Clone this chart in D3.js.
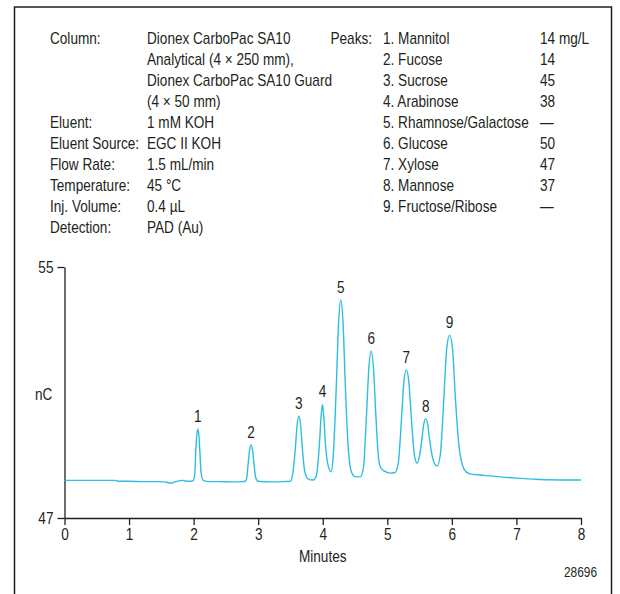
<!DOCTYPE html>
<html>
<head>
<meta charset="utf-8">
<script src="https://cdn.jsdelivr.net/npm/d3@7"></script>
<style>
  body { margin: 0; background: #fff; }
  svg text { font-family: "Liberation Sans", Arial, sans-serif; fill: #231f20; }
</style>
</head>
<body>
<div id="chart"></div>
<script>
// conditions (left block)
var condLabels = ["Column:", "", "", "", "Eluent:", "Eluent Source:", "Flow Rate:", "Temperature:", "Inj. Volume:", "Detection:"];
var condValues = ["Dionex CarboPac SA10", "Analytical (4 \u00d7 250 mm),", "Dionex CarboPac SA10 Guard", "(4 \u00d7 50 mm)",
                  "1 mM KOH", "EGC II KOH", "1.5 mL/min", "45 \u00b0C", "0.4 \u00b5L", "PAD (Au)"];

// peaks table
var peakNames = ["1. Mannitol", "2. Fucose", "3. Sucrose", "4. Arabinose", "5. Rhamnose/Galactose",
                 "6. Glucose", "7. Xylose", "8. Mannose", "9. Fructose/Ribose"];
var peakConc = ["14 mg/L", "14", "45", "38", "\u2014", "50", "47", "37", "\u2014"];

// peak labels on the trace
var peakIds = ["1", "2", "3", "4", "5", "6", "7", "8", "9"];
var peakTimes = [2.065, 2.89, 3.63, 3.995, 4.28, 4.75, 5.295, 5.595, 5.965];
var peakTops = [49.84, 49.33, 50.25, 50.62, 53.95, 52.32, 51.72, 50.16, 52.83];

// axis ticks
var xTicks = [0, 1, 2, 3, 4, 5, 6, 7, 8];
var yTicks = [47, 55];

// chromatogram trace [minutes, nC]
var trace = [
  [0, 48.20], [0.5, 48.20], [0.8, 48.20], [0.82, 48.17], [1.0, 48.17], [1.2, 48.16], [1.4, 48.16],
  [1.55, 48.15], [1.64, 48.11], [1.72, 48.16], [1.84, 48.20], [1.9, 48.17], [1.97, 48.17],
  [1.99, 48.18], [2.02, 48.45], [2.03, 48.98], [2.048, 49.62], [2.065, 49.84], [2.082, 49.62],
  [2.10, 48.98], [2.115, 48.45], [2.15, 48.20], [2.25, 48.16],
  [2.4, 48.16], [2.6, 48.15], [2.75, 48.16], [2.8, 48.17],
  [2.82, 48.25], [2.846, 48.75], [2.868, 49.18], [2.89, 49.33], [2.912, 49.18], [2.934, 48.75],
  [2.96, 48.30], [3.0, 48.17],
  [3.2, 48.15], [3.4, 48.16], [3.5, 48.17],
  [3.53, 48.35], [3.575, 49.2], [3.60, 49.9], [3.63, 50.25], [3.66, 49.9], [3.685, 49.2],
  [3.72, 48.5], [3.77, 48.25], [3.85, 48.21],
  [3.90, 48.35], [3.95, 49.4], [3.973, 50.2], [3.995, 50.62], [4.017, 50.2], [4.04, 49.4],
  [4.08, 48.7], [4.13, 48.47],
  [4.16, 48.9], [4.21, 51.2], [4.245, 53.2], [4.28, 53.95], [4.315, 53.2], [4.35, 51.2],
  [4.39, 49.4], [4.44, 48.5], [4.5, 48.32], [4.58, 48.31],
  [4.63, 48.6], [4.678, 50.3], [4.715, 51.8], [4.75, 52.32], [4.785, 51.8], [4.822, 50.3],
  [4.86, 49.0], [4.89, 48.63], [4.95, 48.5], [5.05, 48.43], [5.12, 48.45],
  [5.17, 48.75], [5.218, 50.1], [5.255, 51.3], [5.295, 51.72], [5.335, 51.3], [5.372, 50.2],
  [5.42, 49.0], [5.46, 48.75],
  [5.50, 49.0], [5.535, 49.5], [5.565, 50.0], [5.595, 50.16], [5.625, 50.0], [5.655, 49.5],
  [5.71, 48.85], [5.77, 48.66],
  [5.82, 49.0], [5.875, 50.8], [5.92, 52.4], [5.965, 52.83], [6.01, 52.4], [6.055, 50.8],
  [6.11, 49.3], [6.17, 48.65], [6.22, 48.47], [6.3, 48.40], [6.5, 48.36], [6.75, 48.31],
  [7.0, 48.27], [7.26, 48.24], [7.5, 48.22], [8.0, 48.21]
];

var width = 620;
var height = 594;
var squeeze = 0.85;   // condensed look

var svg = d3.select("#chart")
    .append("svg")
    .attr("width", width)
    .attr("height", height);

// narrow text helper
function label(parent, x, y, str, anchor, size) {
  return parent.append("text")
      .attr("transform", "translate(" + x + "," + y + ") scale(" + squeeze + ",1)")
      .attr("text-anchor", anchor || "start")
      .attr("font-size", size || 16)
      .text(str);
}

// frame (open at the bottom)
svg.append("path")
    .attr("d", "M14.5,600 L14.5,7 L611.5,7 L611.5,600")
    .attr("fill", "none")
    .attr("stroke", "#231f20")
    .attr("stroke-width", 1.5);

// header text
var rowY = function(i) { return 43.5 + i * 21.1; };
var head = svg.append("g");

condLabels.forEach(function(d, i) { label(head, 50, rowY(i), d); });
condValues.forEach(function(d, i) { label(head, 147, rowY(i), d); });
label(head, 372, rowY(0), "Peaks:", "end");
peakNames.forEach(function(d, i) { label(head, 383, rowY(i), d); });
peakConc.forEach(function(d, i) { label(head, 540, rowY(i), d); });

// scales
var xScale = d3.scaleLinear().domain([0, 8]).range([64.5, 581]);
var yScale = d3.scaleLinear().domain([47, 55]).range([518, 267]);

// x axis
var axisX = d3.axisBottom(xScale)
    .tickValues(xTicks)
    .tickFormat(d3.format("d"))
    .tickSize(7)
    .tickSizeOuter(0)
    .tickPadding(4);

var gx = svg.append("g")
    .attr("transform", "translate(0," + yScale(47) + ")")
    .call(axisX);

// y axis
var axisY = d3.axisLeft(yScale)
    .tickValues(yTicks)
    .tickFormat(d3.format("d"))
    .tickSize(7)
    .tickSizeOuter(0)
    .tickPadding(6);

var gy = svg.append("g")
    .attr("transform", "translate(" + xScale(0) + ",0)")
    .call(axisY);

[gx, gy].forEach(function(g) {
  g.select(".domain").attr("stroke", "#231f20").attr("stroke-width", 1.3);
  g.selectAll(".tick line").attr("stroke", "#231f20").attr("stroke-width", 1.3);
  g.selectAll(".tick text")
    .attr("font-family", "'Liberation Sans', Arial, sans-serif")
    .attr("font-size", 16)
    .attr("fill", "#231f20")
    .attr("transform", "scale(" + squeeze + ",1)");
});

// axis titles
label(svg, xScale(4), 562, "Minutes", "middle");
label(svg, 35, 400, "nC");
label(svg, 597, 577, "28696", "end", 14);

// trace
var line = d3.line()
    .x(function(d) { return xScale(d[0]); })
    .y(function(d) { return yScale(d[1]); })
    .curve(d3.curveMonotoneX);

svg.append("path")
    .datum(trace)
    .attr("fill", "none")
    .attr("stroke", "#2dbfdf")
    .attr("stroke-width", 1.4)
    .attr("d", line);

// peak numbers
var gp = svg.append("g");
peakIds.forEach(function(d, i) {
  label(gp, xScale(peakTimes[i]), yScale(peakTops[i]) - 7, d, "middle");
});
</script>
</body>
</html>
